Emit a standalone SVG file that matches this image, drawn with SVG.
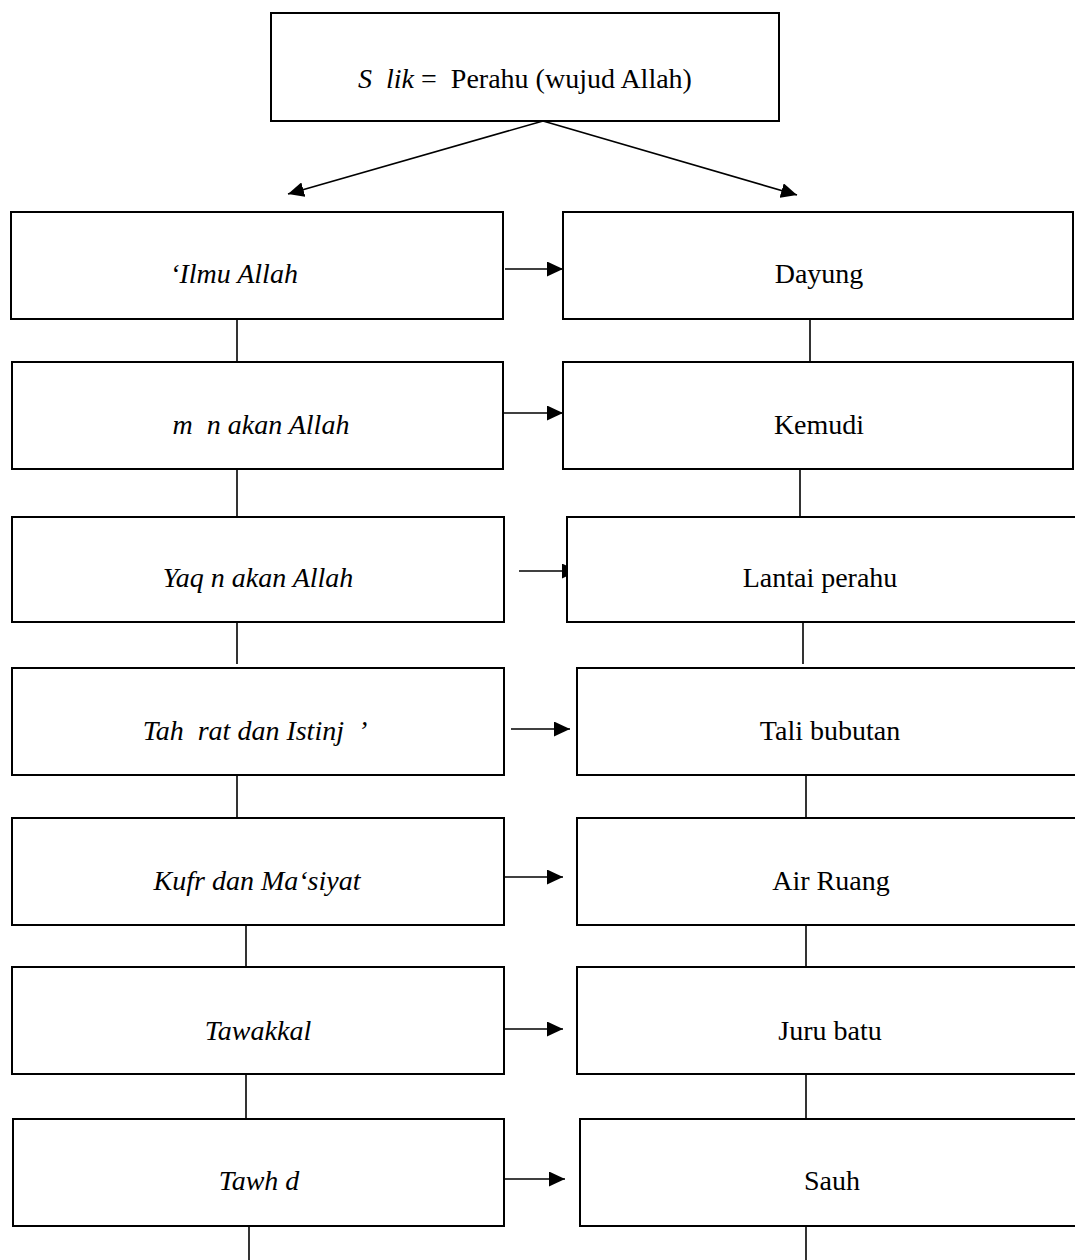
<svg xmlns="http://www.w3.org/2000/svg" width="1075" height="1260" viewBox="0 0 1075 1260" xml:space="preserve">
<style>
.box{fill:#fff;stroke:#000;stroke-width:2}
.ln{stroke:#000;stroke-width:1.6;fill:none}
.t{font-family:"Liberation Serif","Times New Roman",serif;font-size:28px;fill:#000;text-anchor:middle;white-space:pre}
.i{font-style:italic}
</style>
<defs>
<marker id="ah" viewBox="0 0 10 10" refX="10" refY="5" markerWidth="16" markerHeight="15" markerUnits="userSpaceOnUse" orient="auto" preserveAspectRatio="none">
<path d="M0,0 L10,5 L0,10 Z" fill="#000"/>
</marker>
</defs>
<rect width="1075" height="1260" fill="#fff"/>
<g id="connectors">
<line class="ln" x1="543" y1="121" x2="288" y2="194" marker-end="url(#ah)"/>
<line class="ln" x1="543" y1="121" x2="797" y2="195" marker-end="url(#ah)"/>
<line class="ln" x1="505" y1="269" x2="563" y2="269" marker-end="url(#ah)"/>
<line class="ln" x1="503" y1="413" x2="563" y2="413" marker-end="url(#ah)"/>
<line class="ln" x1="519" y1="571" x2="578" y2="571" marker-end="url(#ah)"/>
<line class="ln" x1="511" y1="729" x2="570" y2="729" marker-end="url(#ah)"/>
<line class="ln" x1="503" y1="877" x2="563" y2="877" marker-end="url(#ah)"/>
<line class="ln" x1="503" y1="1029" x2="563" y2="1029" marker-end="url(#ah)"/>
<line class="ln" x1="505" y1="1179" x2="565" y2="1179" marker-end="url(#ah)"/>
<line class="ln" x1="237" y1="319" x2="237" y2="362"/>
<line class="ln" x1="237" y1="469" x2="237" y2="517"/>
<line class="ln" x1="237" y1="622" x2="237" y2="664"/>
<line class="ln" x1="237" y1="775" x2="237" y2="818"/>
<line class="ln" x1="246" y1="925" x2="246" y2="967"/>
<line class="ln" x1="246" y1="1074" x2="246" y2="1118"/>
<line class="ln" x1="249" y1="1226" x2="249" y2="1260"/>
<line class="ln" x1="810" y1="319" x2="810" y2="362"/>
<line class="ln" x1="800" y1="469" x2="800" y2="517"/>
<line class="ln" x1="803" y1="622" x2="803" y2="664"/>
<line class="ln" x1="806" y1="775" x2="806" y2="818"/>
<line class="ln" x1="806" y1="925" x2="806" y2="967"/>
<line class="ln" x1="806" y1="1074" x2="806" y2="1120"/>
<line class="ln" x1="806" y1="1226" x2="806" y2="1260"/>
</g>
<g id="top"><rect class="box" x="271" y="13" width="508" height="108"/><text class="t" x="525" y="88"><tspan class="i">S  lik</tspan> =  Perahu (wujud Allah)</text></g>
<g id="l1"><rect class="box" x="11" y="212" width="492" height="107"/><text class="t i" x="234" y="283">‘Ilmu Allah</text></g>
<g id="l2"><rect class="box" x="12" y="362" width="491" height="107"/><text class="t i" x="261" y="434">m  n akan Allah</text></g>
<g id="l3"><rect class="box" x="12" y="517" width="492" height="105"/><text class="t i" x="258" y="587">Yaq n akan Allah</text></g>
<g id="l4"><rect class="box" x="12" y="668" width="492" height="107"/><text class="t i" x="255" y="740">Tah  rat dan Istinj  ’</text></g>
<g id="l5"><rect class="box" x="12" y="818" width="492" height="107"/><text class="t i" x="257" y="890">Kufr dan Ma‘siyat</text></g>
<g id="l6"><rect class="box" x="12" y="967" width="492" height="107"/><text class="t i" x="258" y="1040">Tawakkal</text></g>
<g id="l7"><rect class="box" x="13" y="1119" width="491" height="107"/><text class="t i" x="259" y="1190">Tawh d</text></g>
<g id="r1"><rect class="box" x="563" y="212" width="510" height="107"/><text class="t" x="819" y="283">Dayung</text></g>
<g id="r2"><rect class="box" x="563" y="362" width="510" height="107"/><text class="t" x="819" y="434">Kemudi</text></g>
<g id="r3"><rect class="box" x="567" y="517" width="510" height="105"/><text class="t" x="820" y="587">Lantai perahu</text></g>
<g id="r4"><rect class="box" x="577" y="668" width="500" height="107"/><text class="t" x="830" y="740">Tali bubutan</text></g>
<g id="r5"><rect class="box" x="577" y="818" width="500" height="107"/><text class="t" x="831" y="890">Air Ruang</text></g>
<g id="r6"><rect class="box" x="577" y="967" width="500" height="107"/><text class="t" x="830" y="1040">Juru batu</text></g>
<g id="r7"><rect class="box" x="580" y="1119" width="497" height="107"/><text class="t" x="832" y="1190">Sauh</text></g>
</svg>
